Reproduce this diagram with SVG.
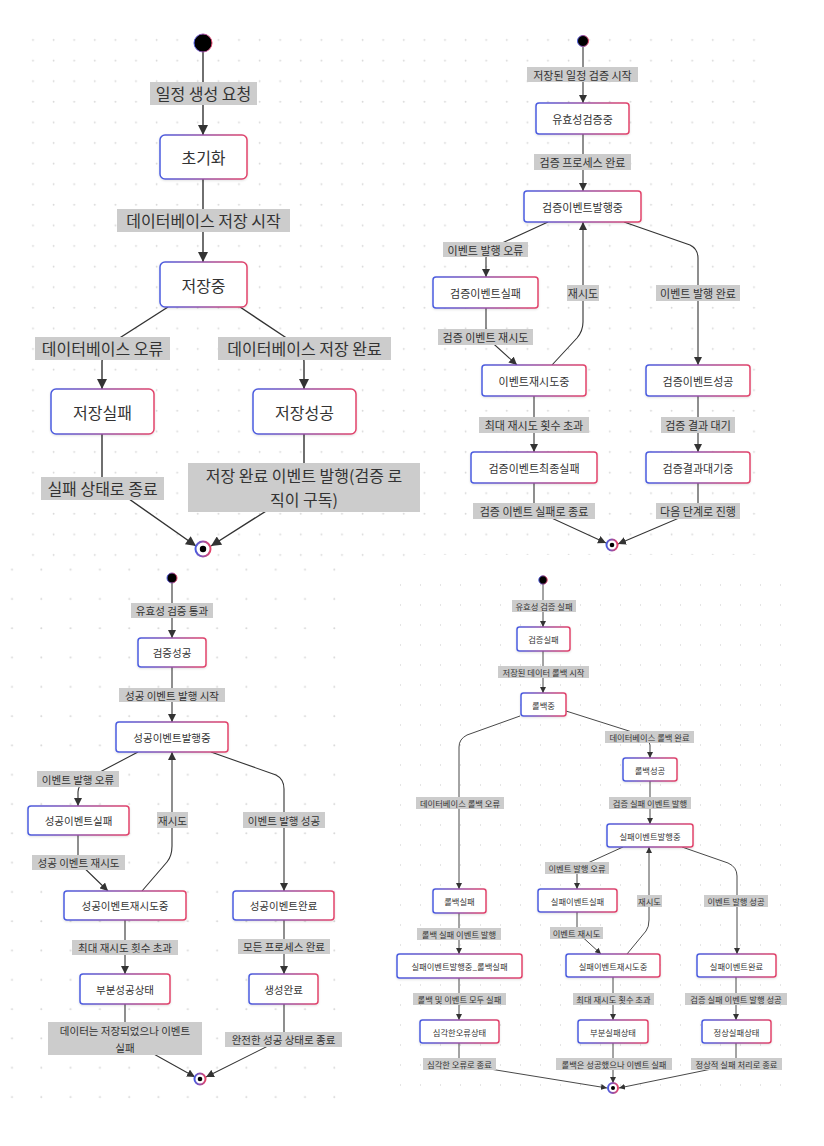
<svg xmlns="http://www.w3.org/2000/svg" width="824" height="1146" viewBox="0 0 824 1146">
<style>
text{font-family:"Noto Sans CJK KR","Noto Sans",sans-serif;fill:#333;text-anchor:middle;dominant-baseline:central}
.node rect{fill:#fff;stroke:url(#ng);stroke-width:1.5;filter:url(#sh)}
.lbl rect{fill:#cccccc}
.edges path{fill:none;stroke:#333}
.p1{font-size:16px}.p2{font-size:11px}.p3{font-size:10.5px}.p4{font-size:8.3px}
.e1{stroke-width:1.4}.e2{stroke-width:1.1}.e4{stroke-width:0.9}
.start{fill:#000;stroke:url(#ng);stroke-width:1}
.endo{fill:#fff;stroke:url(#ng);stroke-width:2}
.endi{fill:#000}
</style>
<defs>
<linearGradient id="ng" x1="0" y1="0" x2="1" y2="0">
<stop offset="0" stop-color="#4a5ce0"/><stop offset="1" stop-color="#e2436a"/>
</linearGradient>
<filter id="sh" x="-10%" y="-20%" width="120%" height="150%">
<feDropShadow dx="0" dy="1" stdDeviation="1.2" flood-color="#000" flood-opacity="0.12"/>
</filter>
<pattern id="g20" patternUnits="userSpaceOnUse" x="0" y="0" width="20.6" height="20.6">
<circle cx="12.4" cy="19.4" r="0.9" fill="#d8d8d8"/>
</pattern>
<pattern id="g20b" patternUnits="userSpaceOnUse" x="0" y="0" width="20" height="20">
<circle cx="0" cy="5" r="0.9" fill="#d8d8d8"/>
</pattern>
<pattern id="g29" patternUnits="userSpaceOnUse" x="0" y="0" width="29.3" height="29.3">
<circle cx="12" cy="13" r="1" fill="#d8d8d8"/>
</pattern>
<marker id="aL" viewBox="0 0 10 10" refX="10" refY="5" markerUnits="userSpaceOnUse" markerWidth="12" markerHeight="10" orient="auto"><path d="M0,0 L10,5 L0,10 z" fill="#333"/></marker>
<marker id="aM" viewBox="0 0 10 10" refX="10" refY="5" markerUnits="userSpaceOnUse" markerWidth="8" markerHeight="8" orient="auto"><path d="M0,0 L10,5 L0,10 z" fill="#333"/></marker>
<marker id="aS" viewBox="0 0 10 10" refX="10" refY="5" markerUnits="userSpaceOnUse" markerWidth="6" markerHeight="6" orient="auto"><path d="M0,0 L10,5 L0,10 z" fill="#333"/></marker>
</defs>
<rect width="824" height="1146" fill="#fff"/>
<g id="grid">
<rect x="25" y="30" width="392" height="530" fill="url(#g20)"/>
<rect x="422" y="30" width="350" height="525" fill="url(#g20)"/>
<rect x="5" y="565" width="352" height="540" fill="url(#g29)"/>
<rect x="395" y="575" width="405" height="525" fill="url(#g20b)"/>
</g>

<g id="connectors" class="edges">
<!-- panel 1 -->
<path class="e1" d="M203,52 L203,135" marker-end="url(#aL)"/>
<path class="e1" d="M203,179 L203,262" marker-end="url(#aL)"/>
<path class="e1" d="M168,307 L118,339 Q102,349 102,362 L102,389" marker-end="url(#aL)"/>
<path class="e1" d="M240,307 L288,339 Q304,349 304,362 L304,389" marker-end="url(#aL)"/>
<path class="e1" d="M102,434 L102,480 L196,546" marker-end="url(#aL)"/>
<path class="e1" d="M304,434 L304,487 L211,546" marker-end="url(#aL)"/>
<!-- panel 2 -->
<path class="e2" d="M583,47 L583,103" marker-end="url(#aM)"/>
<path class="e2" d="M583,134 L583,191" marker-end="url(#aM)"/>
<path class="e2" d="M548,222 L500,244 Q486,250 486,258 L486,277" marker-end="url(#aM)"/>
<path class="e2" d="M552,365 L577,338 Q583,331 583,322 L583,222" marker-end="url(#aM)"/>
<path class="e2" d="M624,222 L690,245 Q698,249 698,258 L698,365" marker-end="url(#aM)"/>
<path class="e2" d="M486,308 L486,337 L517,365" marker-end="url(#aM)"/>
<path class="e2" d="M534,396 L534,452" marker-end="url(#aM)"/>
<path class="e2" d="M534,483 L534,510 L606,543" marker-end="url(#aM)"/>
<path class="e2" d="M698,396 L698,452" marker-end="url(#aM)"/>
<path class="e2" d="M698,483 L698,510 L618,544" marker-end="url(#aM)"/>
<!-- panel 3 -->
<path class="e2" d="M172,583 L172,638" marker-end="url(#aM)"/>
<path class="e2" d="M172,667 L172,722" marker-end="url(#aM)"/>
<path class="e2" d="M138,752 L100,772 Q78,781 78,792 L78,806" marker-end="url(#aM)"/>
<path class="e2" d="M142,891 L167,862 Q172,856 172,846 L172,752" marker-end="url(#aM)"/>
<path class="e2" d="M211,752 L276,775 Q284,779 284,789 L284,891" marker-end="url(#aM)"/>
<path class="e2" d="M78,835 L78,862 L108,891" marker-end="url(#aM)"/>
<path class="e2" d="M125,920 L125,974" marker-end="url(#aM)"/>
<path class="e2" d="M125,1004 L125,1038 L195,1077" marker-end="url(#aM)"/>
<path class="e2" d="M284,920 L284,974" marker-end="url(#aM)"/>
<path class="e2" d="M284,1004 L284,1038 L206,1077" marker-end="url(#aM)"/>
<!-- panel 4 -->
<path class="e4" d="M543,584 L543,627" marker-end="url(#aS)"/>
<path class="e4" d="M543,651 L543,693" marker-end="url(#aS)"/>
<path class="e4" d="M520,716 L467,735 Q459,739 459,747 L459,889" marker-end="url(#aS)"/>
<path class="e4" d="M566,711 L629,731 Q650,737 650,745 L650,758" marker-end="url(#aS)"/>
<path class="e4" d="M650,781 L650,824" marker-end="url(#aS)"/>
<path class="e4" d="M623,847 L590,862 Q577,868 577,874 L577,889" marker-end="url(#aS)"/>
<path class="e4" d="M627,954 L646,931 Q649,927 649,920 L649,847" marker-end="url(#aS)"/>
<path class="e4" d="M682,847 L728,863 Q737,867 737,876 L737,954" marker-end="url(#aS)"/>
<path class="e4" d="M577,912 L577,932 L601,954" marker-end="url(#aS)"/>
<path class="e4" d="M613,977 L613,1020" marker-end="url(#aS)"/>
<path class="e4" d="M613,1043 L613,1083" marker-end="url(#aS)"/>
<path class="e4" d="M459,913 L459,954" marker-end="url(#aS)"/>
<path class="e4" d="M459,978 L459,1020" marker-end="url(#aS)"/>
<path class="e4" d="M459,1043 L459,1064 L607,1088" marker-end="url(#aS)"/>
<path class="e4" d="M736,977 L736,1020" marker-end="url(#aS)"/>
<path class="e4" d="M736,1043 L736,1064 L619,1088" marker-end="url(#aS)"/>
</g>

<g id="edge-labels" class="lbl">
<g class="p1">
<rect x="150" y="82" width="107" height="23"/><text x="203.5" y="93">일정 생성 요청</text>
<rect x="117" y="209" width="173" height="23"/><text x="203.5" y="220">데이터베이스 저장 시작</text>
<rect x="35" y="337" width="135" height="23"/><text x="102.5" y="348">데이터베이스 오류</text>
<rect x="218" y="337" width="173" height="23"/><text x="304.5" y="348">데이터베이스 저장 완료</text>
<rect x="41" y="477" width="123" height="23"/><text x="102.5" y="488">실패 상태로 종료</text>
<rect x="188" y="463" width="232" height="49"/><text x="304" y="475">저장 완료 이벤트 발행(검증 로</text><text x="304" y="499">직이 구독)</text>
</g>
<g class="p2">
<rect x="527" y="67" width="111" height="15"/><text x="582.5" y="74.5">저장된 일정 검증 시작</text>
<rect x="534" y="154" width="97" height="16"/><text x="582.5" y="162">검증 프로세스 완료</text>
<rect x="443" y="242" width="85" height="15"/><text x="485.5" y="249.5">이벤트 발행 오류</text>
<rect x="567" y="285" width="32" height="16"/><text x="583" y="293">재시도</text>
<rect x="656" y="285" width="84" height="16"/><text x="698" y="293">이벤트 발행 완료</text>
<rect x="438" y="329" width="95" height="16"/><text x="485.5" y="337">검증 이벤트 재시도</text>
<rect x="479" y="417" width="110" height="16"/><text x="534" y="425">최대 재시도 횟수 초과</text>
<rect x="661" y="417" width="74" height="16"/><text x="698" y="425">검증 결과 대기</text>
<rect x="473" y="503" width="122" height="16"/><text x="534" y="511">검증 이벤트 실패로 종료</text>
<rect x="656" y="503" width="84" height="16"/><text x="698" y="511">다음 단계로 진행</text>
</g>
<g class="p3">
<rect x="131" y="603" width="82" height="15"/><text x="172" y="610.5">유효성 검증 통과</text>
<rect x="119" y="688" width="106" height="14"/><text x="172" y="695">성공 이벤트 발행 시작</text>
<rect x="37" y="771" width="82" height="16"/><text x="78" y="779">이벤트 발행 오류</text>
<rect x="157" y="812" width="31" height="16"/><text x="172.5" y="820">재시도</text>
<rect x="243" y="812" width="82" height="16"/><text x="284" y="820">이벤트 발행 성공</text>
<rect x="32" y="855" width="93" height="15"/><text x="78.5" y="862.5">성공 이벤트 재시도</text>
<rect x="72" y="940" width="106" height="15"/><text x="125" y="947.5">최대 재시도 횟수 초과</text>
<rect x="238" y="939" width="92" height="15"/><text x="284" y="946.5">모든 프로세스 완료</text>
<rect x="48" y="1022" width="154" height="33"/><text x="125" y="1030">데이터는 저장되었으나 이벤트</text><text x="125" y="1047">실패</text>
<rect x="225" y="1032" width="117" height="15"/><text x="283.5" y="1039.5">완전한 성공 상태로 종료</text>
</g>
<g class="p4">
<rect x="512" y="600" width="64" height="12"/><text x="544" y="606">유효성 검증 실패</text>
<rect x="498" y="666" width="91" height="12"/><text x="543.5" y="672">저장된 데이터 롤백 시작</text>
<rect x="416" y="797" width="88" height="12"/><text x="460" y="803">데이터베이스 롤백 오류</text>
<rect x="605" y="731" width="89" height="12"/><text x="649.5" y="737">데이터베이스 롤백 완료</text>
<rect x="609" y="797" width="82" height="12"/><text x="650" y="803">검증 실패 이벤트 발행</text>
<rect x="545" y="862" width="64" height="12"/><text x="577" y="868">이벤트 발행 오류</text>
<rect x="637" y="895" width="25" height="12"/><text x="649.5" y="901">재시도</text>
<rect x="704" y="895" width="64" height="12"/><text x="736" y="901">이벤트 발행 성공</text>
<rect x="550" y="927" width="53" height="12"/><text x="576.5" y="933">이벤트 재시도</text>
<rect x="417" y="928" width="84" height="12"/><text x="459" y="934">롤백 실패 이벤트 발행</text>
<rect x="413" y="993" width="93" height="12"/><text x="459.5" y="999">롤백 및 이벤트 모두 실패</text>
<rect x="573" y="993" width="81" height="12"/><text x="613.5" y="999">최대 재시도 횟수 초과</text>
<rect x="685" y="993" width="102" height="12"/><text x="736" y="999">검증 실패 이벤트 발행 성공</text>
<rect x="423" y="1058" width="73" height="12"/><text x="459.5" y="1064">심각한 오류로 종료</text>
<rect x="556" y="1058" width="116" height="12"/><text x="614" y="1064">롤백은 성공했으나 이벤트 실패</text>
<rect x="691" y="1058" width="91" height="12"/><text x="736.5" y="1064">정상적 실패 처리로 종료</text>
</g>
</g>

<!-- panel 1 nodes -->
<g id="p1-start"><circle class="start" cx="203" cy="43" r="9"/></g>
<g id="p1-init" class="node p1"><rect x="160" y="135" width="87" height="44" rx="5"/><text x="203.5" y="157">초기화</text></g>
<g id="p1-saving" class="node p1"><rect x="160" y="262" width="87" height="45" rx="5"/><text x="203.5" y="284.5">저장중</text></g>
<g id="p1-savefail" class="node p1"><rect x="51" y="389" width="103" height="45" rx="5"/><text x="102.5" y="411.5">저장실패</text></g>
<g id="p1-savesucc" class="node p1"><rect x="253" y="389" width="103" height="45" rx="5"/><text x="304.5" y="411.5">저장성공</text></g>
<g id="p1-end"><circle class="endo" cx="203" cy="549" r="7.5"/><circle class="endi" cx="203" cy="549" r="3.2"/></g>

<!-- panel 2 nodes -->
<g id="p2-start"><circle class="start" cx="583" cy="41" r="5.5"/></g>
<g id="p2-validating" class="node p2"><rect x="536" y="103" width="93" height="31" rx="3"/><text x="582.5" y="118.5">유효성검증중</text></g>
<g id="p2-publishing" class="node p2"><rect x="524" y="191" width="117" height="31" rx="3"/><text x="582.5" y="206.5">검증이벤트발행중</text></g>
<g id="p2-evfail" class="node p2"><rect x="433" y="277" width="105" height="31" rx="3"/><text x="485.5" y="292.5">검증이벤트실패</text></g>
<g id="p2-retrying" class="node p2"><rect x="482" y="365" width="104" height="31" rx="3"/><text x="534" y="380.5">이벤트재시도중</text></g>
<g id="p2-evsucc" class="node p2"><rect x="646" y="365" width="104" height="31" rx="3"/><text x="698" y="380.5">검증이벤트성공</text></g>
<g id="p2-finalfail" class="node p2"><rect x="471" y="452" width="126" height="31" rx="3"/><text x="534" y="467.5">검증이벤트최종실패</text></g>
<g id="p2-waiting" class="node p2"><rect x="646" y="452" width="104" height="31" rx="3"/><text x="698" y="467.5">검증결과대기중</text></g>
<g id="p2-end"><circle class="endo" cx="612" cy="545" r="5.5"/><circle class="endi" cx="612" cy="545" r="2.3"/></g>

<!-- panel 3 nodes -->
<g id="p3-start"><circle class="start" cx="172" cy="578" r="5"/></g>
<g id="p3-valsucc" class="node p3"><rect x="138" y="638" width="68" height="29" rx="3"/><text x="172" y="652.5">검증성공</text></g>
<g id="p3-publishing" class="node p3"><rect x="116" y="722" width="112" height="30" rx="3"/><text x="172" y="737">성공이벤트발행중</text></g>
<g id="p3-evfail" class="node p3"><rect x="28" y="806" width="101" height="29" rx="3"/><text x="78.5" y="820.5">성공이벤트실패</text></g>
<g id="p3-retrying" class="node p3"><rect x="64" y="891" width="122" height="29" rx="3"/><text x="125" y="905.5">성공이벤트재시도중</text></g>
<g id="p3-evdone" class="node p3"><rect x="233" y="891" width="101" height="29" rx="3"/><text x="283.5" y="905.5">성공이벤트완료</text></g>
<g id="p3-partial" class="node p3"><rect x="80" y="974" width="90" height="30" rx="3"/><text x="125" y="989">부분성공상태</text></g>
<g id="p3-created" class="node p3"><rect x="249" y="974" width="69" height="30" rx="3"/><text x="283.5" y="989">생성완료</text></g>
<g id="p3-end"><circle class="endo" cx="200" cy="1079" r="5.5"/><circle class="endi" cx="200" cy="1079" r="2.3"/></g>

<!-- panel 4 nodes -->
<g id="p4-start"><circle class="start" cx="543" cy="580" r="4.2"/></g>
<g id="p4-valfail" class="node p4"><rect x="517" y="627" width="53" height="24" rx="2.5"/><text x="543.5" y="639">검증실패</text></g>
<g id="p4-rollingback" class="node p4"><rect x="521" y="693" width="45" height="23" rx="2.5"/><text x="543.5" y="704.5">롤백중</text></g>
<g id="p4-rbfail" class="node p4"><rect x="433" y="889" width="53" height="24" rx="2.5"/><text x="459.5" y="901">롤백실패</text></g>
<g id="p4-rbsucc" class="node p4"><rect x="623" y="758" width="54" height="23" rx="2.5"/><text x="650" y="769.5">롤백성공</text></g>
<g id="p4-publishing" class="node p4"><rect x="607" y="824" width="86" height="23" rx="2.5"/><text x="650" y="835.5">실패이벤트발행중</text></g>
<g id="p4-evfail" class="node p4"><rect x="538" y="889" width="79" height="23" rx="2.5"/><text x="577.5" y="900.5">실패이벤트실패</text></g>
<g id="p4-retrying" class="node p4"><rect x="566" y="954" width="94" height="23" rx="2.5"/><text x="613" y="965.5">실패이벤트재시도중</text></g>
<g id="p4-evdone" class="node p4"><rect x="697" y="954" width="79" height="23" rx="2.5"/><text x="736.5" y="965.5">실패이벤트완료</text></g>
<g id="p4-pub-rbfail" class="node p4"><rect x="397" y="954" width="125" height="24" rx="2.5"/><text x="459.5" y="966">실패이벤트발행중_롤백실패</text></g>
<g id="p4-critical" class="node p4"><rect x="420" y="1020" width="79" height="23" rx="2.5"/><text x="459.5" y="1031.5">심각한오류상태</text></g>
<g id="p4-partial" class="node p4"><rect x="578" y="1020" width="70" height="23" rx="2.5"/><text x="613" y="1031.5">부분실패상태</text></g>
<g id="p4-normal" class="node p4"><rect x="702" y="1020" width="69" height="23" rx="2.5"/><text x="736.5" y="1031.5">정상실패상태</text></g>
<g id="p4-end"><circle class="endo" cx="613" cy="1088" r="5"/><circle class="endi" cx="613" cy="1088" r="2"/></g>
</svg>
